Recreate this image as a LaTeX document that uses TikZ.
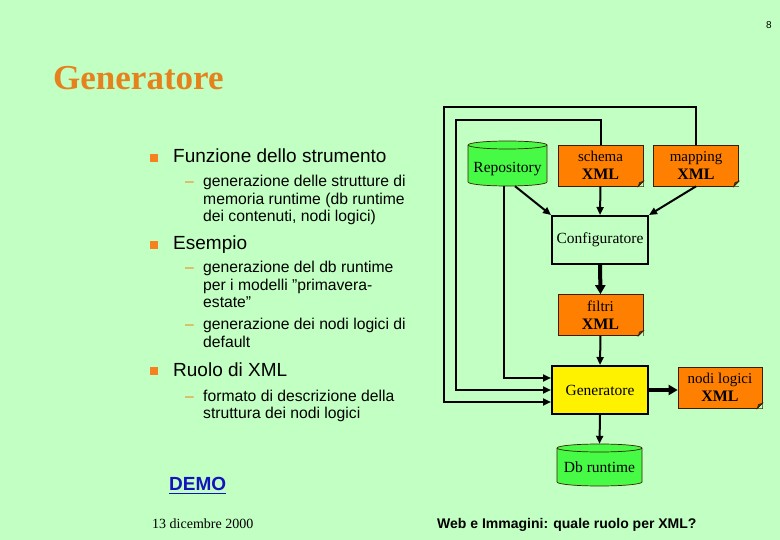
\documentclass[tikz,border=0pt]{standalone}
\usepackage{fontspec}
\setmainfont{Liberation Serif}
\setsansfont{Liberation Sans}
\usetikzlibrary{arrows.meta,calc}
\definecolor{bg}{RGB}{194,255,194}
\definecolor{docorange}{RGB}{255,128,0}
\definecolor{cylgreen}{RGB}{70,250,70}
\definecolor{titleorange}{RGB}{230,130,30}
\definecolor{bulletorange}{RGB}{245,130,30}
\definecolor{demoblue}{RGB}{20,20,190}
\definecolor{docline}{RGB}{60,30,0}
\newcommand\docfold[1]{%
  \fill[bg] (#1.south east) -- ++(-5pt,0pt) -- ++(5pt,5pt) -- cycle;
  \filldraw[draw=docline,line width=0.7pt,fill=docorange!55!black]
    ([xshift=-5pt]#1.south east) -- ++(1.2pt,3.8pt) -- ++(3.8pt,1.2pt) -- cycle;
  \draw[docline,line width=0.7pt] ([xshift=-5pt]#1.south east) -- ++(5pt,5pt);
}
\newcommand\cylshape[4]{% x1 x2 top bottom
  \pgfmathsetmacro\rxx{(#2-#1)/2}
  \filldraw[fill=cylgreen,draw=docline,line width=0.7pt]
    (#1,#3+4) -- (#1,#4-4) arc[start angle=180,end angle=360,x radius=\rxx pt,y radius=4pt]
    -- (#2,#3+4) arc[start angle=0,end angle=180,x radius=\rxx pt,y radius=4pt] -- cycle;
  \draw[docline,line width=0.7pt] (#1,#3+4) arc[start angle=180,end angle=360,x radius=\rxx pt,y radius=4pt];
}
\newcommand\xmlword{{\bfseries\fontsize{16}{18}\selectfont XML}}
\begin{document}
\begin{tikzpicture}[x=1pt,y=-1pt,
  conn/.style={line width=2pt,-{Triangle[length=8pt,width=7pt]}},
  thickconn/.style={line width=4pt,-{Triangle[length=9pt,width=10pt]}},
  doc/.style={fill=docorange,draw=docline,line width=0.7pt,inner sep=0pt,align=center,
    minimum width=85pt,minimum height=41pt,font=\fontsize{15}{18}\selectfont},
  proc/.style={draw=black,line width=2pt,inner sep=0pt,minimum width=96pt,minimum height=48pt,
    font=\fontsize{15.5}{18}\selectfont},
  cyltext/.style={inner sep=0pt,font=\fontsize{15.5}{18}\selectfont},
  head/.style={anchor=base west,inner sep=0pt,font=\sffamily\fontsize{19}{22}\selectfont},
  sub/.style={anchor=base west,inner sep=0pt,font=\sffamily\fontsize{15.7}{17}\selectfont},
  dashmark/.style={anchor=base west,inner sep=0pt,text=bulletorange,font=\sffamily\fontsize{15.7}{17}\selectfont},
  sq/.style={fill=bulletorange,minimum size=8pt,inner sep=0pt}
]
\useasboundingbox (0,0) rectangle (780,540);
\fill[bg] (0,0) rectangle (780,540);

% page number and title
\node[inner sep=0pt,font=\sffamily\fontsize{10}{12}\selectfont] (pg) at (769,25) {8};
\node[anchor=base west,inner sep=0pt,text=titleorange,font=\bfseries\fontsize{35}{40}\selectfont] (title) at (53,90) {Generatore};

% left column
\node[sq] (b1) at (154,158) {};
\node[head] (h1) at (173,163) {Funzione dello strumento};
\node[dashmark] (d1) at (185,187) {–};
\node[sub] (s1a) at (203,187) {generazione delle strutture di};
\node[sub] (s1b) at (203,205) {memoria runtime (db runtime};
\node[sub] (s1c) at (203,222) {dei contenuti, nodi logici)};

\node[sq] (b2) at (154,245) {};
\node[head] (h2) at (173,250) {Esempio};
\node[dashmark] (d2) at (185,273) {–};
\node[sub] (s2a) at (203,273) {generazione del db runtime};
\node[sub] (s2b) at (203,291) {per i modelli {\char34}primavera-};
\node[sub] (s2c) at (203,308) {estate{\char34}};
\node[dashmark] (d3) at (185,330) {–};
\node[sub] (s3a) at (203,330) {generazione dei nodi logici di};
\node[sub] (s3b) at (203,348) {default};

\node[sq] (b3) at (154,371) {};
\node[head] (h3) at (173,377) {Ruolo di XML};
\node[dashmark] (d4) at (185,401) {–};
\node[sub] (s4a) at (203,401) {formato di descrizione della};
\node[sub] (s4b) at (203,418) {struttura dei nodi logici};

\node[anchor=base west,inner sep=0pt,text=demoblue,font=\sffamily\bfseries\fontsize{19}{22}\selectfont] (demo) at (169,490) {DEMO};
\draw[demoblue,line width=1.3pt] (demo.base west) ++(0,3.5) coordinate (u1) -- (u1 -| demo.east);

\node[anchor=base west,inner sep=0pt,font=\fontsize{14}{16}\selectfont] (date) at (152,528) {13 dicembre 2000};
\node[anchor=base west,inner sep=0pt,font=\sffamily\bfseries\fontsize{14}{16}\selectfont] (foot) at (437,528) {Web e Immagini: quale ruolo per XML?};

% diagram
\cylshape{468}{547}{141}{186}
\node[cyltext,minimum width=79pt,minimum height=45pt] (repo) at (507.5,163.5) {\raisebox{-9pt}[0pt][0pt]{Repository}};
\node[doc] (schema) at (600.5,165.5) {schema\\\xmlword};
\node[doc] (mapping) at (696,165.5) {mapping\\\xmlword};
\docfold{schema}
\docfold{mapping}
\node[proc,fill=bg] (conf) at (600,240) {Configuratore};
\node[doc] (filtri) at (600.5,315) {filtri\\\xmlword};
\docfold{filtri}
\node[proc,fill=yellow] (gen) at (600,390) {Generatore};
\node[doc,minimum width=84pt] (nodi) at (720,387.5) {nodi logici\\\xmlword};
\docfold{nodi}
\cylshape{557}{642}{444}{486}
\node[cyltext,minimum width=85pt,minimum height=42pt] (db) at (599.5,465) {\raisebox{-7.5pt}[0pt][0pt]{Db runtime}};

% connectors
\draw[conn] ([xshift=7.5pt]repo.south) -- (conf.north west);
\draw[conn] (schema.south) -- (conf.north);
\draw[conn] (mapping.south) -- (conf.north east);
\draw[conn] (mapping.north) |- (444,107) |- ([yshift=-12pt]gen.west);
\draw[conn] (schema.north) |- (456,120) |- (gen.west);
\draw[conn] ([xshift=-3.5pt]repo.south) |- ([yshift=12pt]gen.west);
\draw[thickconn] (conf.south) -- (filtri.north);
\draw[conn] (filtri.south) -- (gen.north);
\draw[thickconn] (gen.east) -- (gen.east -| nodi.west);
\draw[conn] (gen.south) -- (db.north);
\end{tikzpicture}
\end{document}
